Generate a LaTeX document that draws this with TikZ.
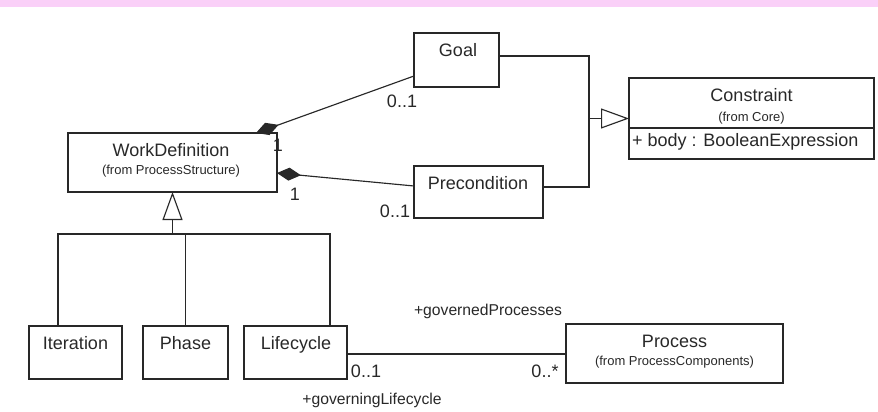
\documentclass[tikz,border=0pt]{standalone}
\usepackage{fontspec}
\setmainfont{Liberation Sans}
\usetikzlibrary{arrows.meta}
\definecolor{band}{RGB}{250,208,248}
\definecolor{ink}{RGB}{40,40,40}
\begin{document}
\begin{tikzpicture}[x=1pt,y=-1pt,
  box/.style 2 args={draw=ink,line width=1.15pt,minimum width=#1,minimum height=#2,inner sep=0pt,outer sep=0pt},
  big/.style={font=\fontsize{18}{20}\selectfont,text=ink,inner sep=0pt,anchor=base},
  small/.style={font=\fontsize{13}{15}\selectfont,text=ink,inner sep=0pt,anchor=base},
  role/.style={font=\fontsize{15.7}{18}\selectfont,text=ink,inner sep=0pt,anchor=base},
  conn/.style={draw=ink,line width=1.15pt},
  gen/.style={conn,-{Triangle[open,length=28pt,width=20pt,fill=white]}},
  comp/.style={conn,{Diamond[length=24pt,width=13pt]}-}
]
\useasboundingbox (0,0) rectangle (878,412);
\fill[band] (0,0) rectangle (878,7);

% class boxes
\node[box={85pt}{54pt}] (goal) at (456.5,60) {};
\node[box={129pt}{52pt}] (pre) at (478.5,192) {};
\node[box={245pt}{81pt}] (cons) at (751.5,118.5) {};
\node[box={209pt}{59pt}] (wd) at (172.5,162.5) {};
\node[box={93pt}{53pt}] (it) at (75.5,352.5) {};
\node[box={85pt}{53pt}] (ph) at (185.5,352.5) {};
\node[box={103pt}{53pt}] (lc) at (295.5,352.5) {};
\node[box={217pt}{59pt}] (proc) at (674.5,353.5) {};

\draw[conn] ([yshift=-9.5pt]cons.west) -- ([yshift=-9.5pt]cons.east);

% class texts
\node[big] (goalT) at (458,56.5) {Goal};
\node[big] (preT) at (478,189) {Precondition};
\node[big] (consT) at (751.5,101) {Constraint};
\node[small] (consF) at (751.5,121) {(from Core)};
\node[big,anchor=base west] (consA) at (632,146) {+ body : BooleanExpression};
\node[big] (wdT) at (171,156) {WorkDefinition};
\node[small] (wdF) at (171,174.5) {(from ProcessStructure)};
\node[big] (itT) at (75.5,349) {Iteration};
\node[big] (phT) at (185.5,349) {Phase};
\node[big] (lcT) at (296,349) {Lifecycle};
\node[big] (procT) at (674.5,347) {Process};
\node[small] (procF) at (674.5,365) {(from ProcessComponents)};

% generalization to Constraint
\coordinate (j) at (589,118.5);
\draw[conn] ([yshift=4pt]goal.east) -| (j) |- ([yshift=5pt]pre.east);
\draw[gen] (j) -- (cons.west);

% compositions
\draw[comp] ([xshift=-21pt]wd.north east) -- ([yshift=-16pt]goal.west);
\draw[comp] ([yshift=-10.5pt]wd.east) -- ([yshift=6pt]pre.west);
\node[big] (m1) at (278,151) {1};
\node[big] (m2) at (402,107) {0..1};
\node[big] (m3) at (295,200) {1};
\node[big] (m4) at (395,217) {0..1};

% generalization to WorkDefinition
\coordinate (gj) at (172.5,234);
\draw[gen] (gj) -- (wd.south);
\draw[conn] ([xshift=-17.5pt]it.north) |- (gj) -| ([xshift=34.5pt]lc.north);
\draw[conn] (ph.north) -- (ph.north |- gj);

% association
\draw[conn] ([yshift=-1.5pt]lc.east) -- ([yshift=-0.5pt]proc.west);
\node[role] (r1) at (488,315.5) {+governedProcesses};
\node[big] (m5) at (366,377) {0..1};
\node[big] (m6) at (545,377) {0..*};
\node[role] (r2) at (372,404.5) {+governingLifecycle};
\end{tikzpicture}
\end{document}
